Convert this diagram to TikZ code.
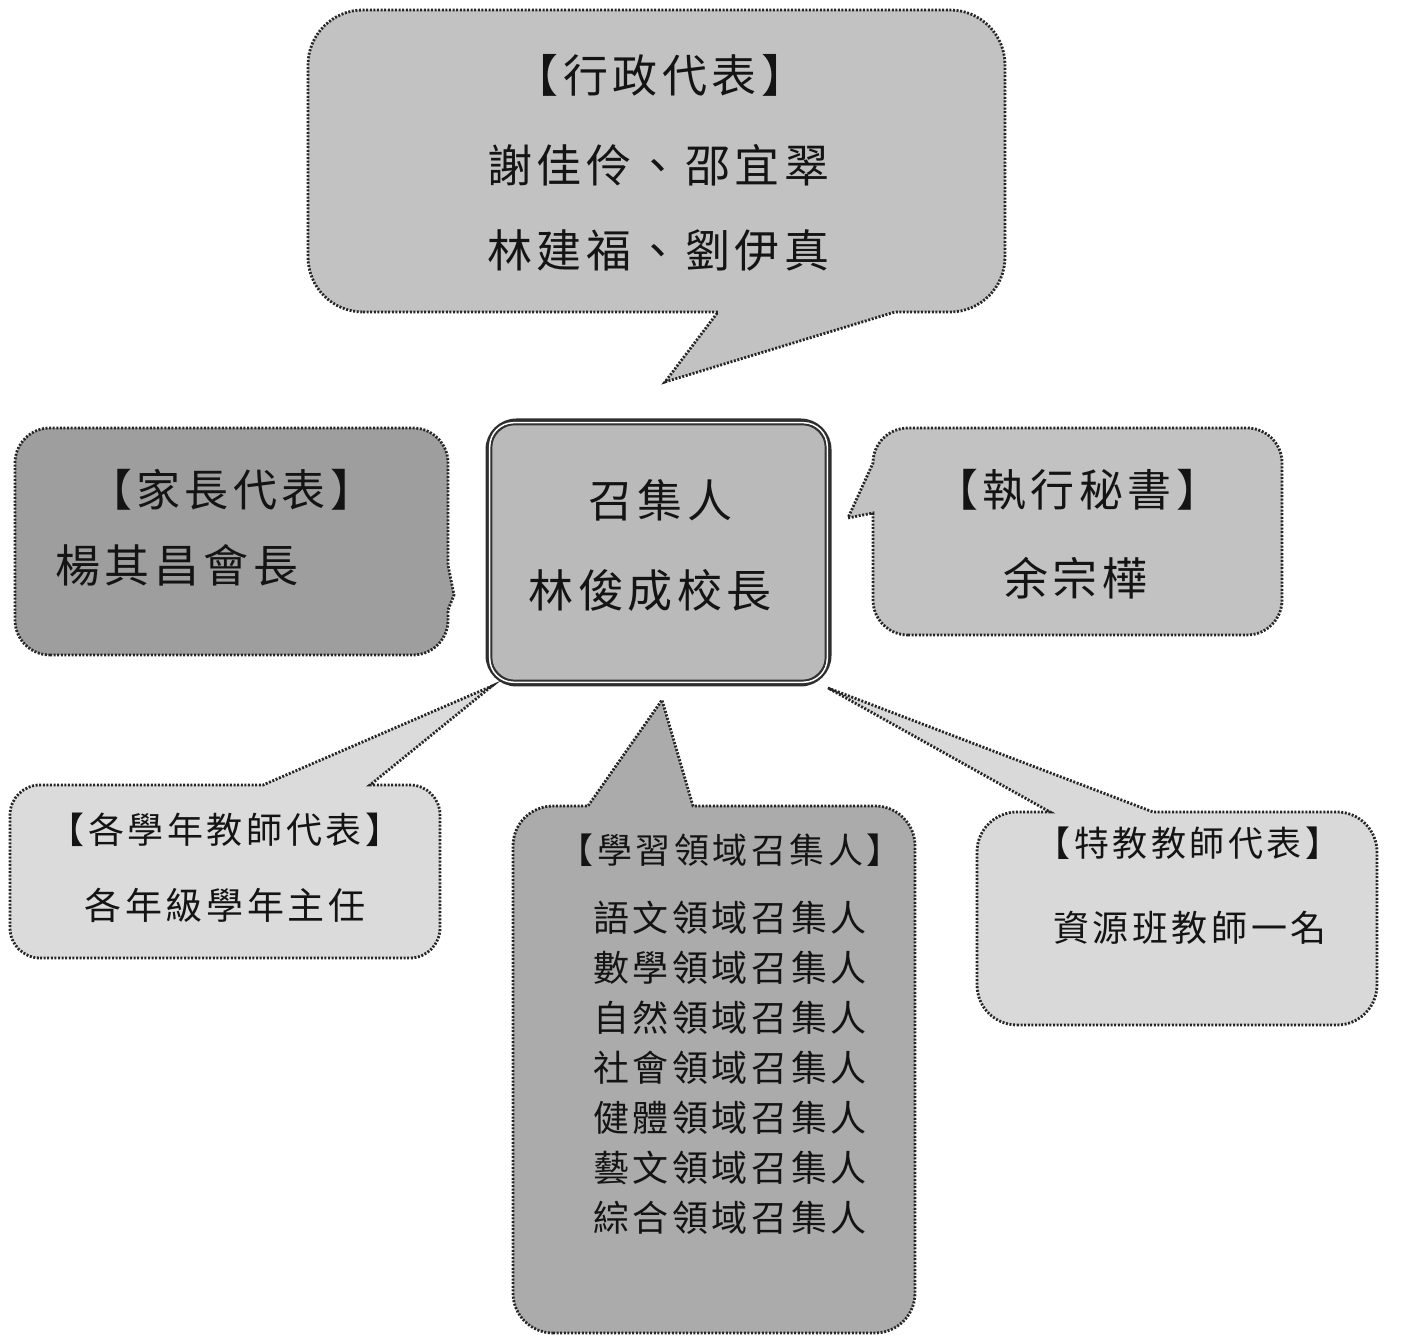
\documentclass[tikz,border=0pt]{standalone}
\usepackage{fontspec}
\newfontfamily\cjk{Noto Sans CJK TC}[LetterSpace=10]
\newcommand\myfs[1]{\fontsize{#1}{#1}\selectfont}
\definecolor{gTop}{gray}{0.76}
\definecolor{gLeft}{gray}{0.62}
\definecolor{gCenter}{gray}{0.73}
\definecolor{gRight}{gray}{0.76}
\definecolor{gGrade}{gray}{0.86}
\definecolor{gLearn}{gray}{0.67}
\definecolor{gSped}{gray}{0.85}
\begin{document}
\begin{tikzpicture}[x=1pt,y=1pt,
  callout/.style={draw=black!85, line width=2.8pt, dash pattern=on 2pt off 1.6pt},
  lbl/.style={inner sep=0pt, text=black!92, font=\cjk}]
\useasboundingbox (0,0) rectangle (1415,1337);
% tail tips
\coordinate (tipT) at (665,955);
\coordinate (tipR) at (848,819);
\coordinate (tipG) at (492,651);
\coordinate (tipL) at (662,637);
\coordinate (tipS) at (828,649);
% top callout
\draw[callout, fill=gTop] (363,1025) -- (718,1025) -- (tipT) -- (895,1025) -- (950,1025)
  arc[start angle=-90,end angle=0,radius=55pt] -- (1005,1272)
  arc[start angle=0,end angle=90,radius=55pt] -- (363,1327)
  arc[start angle=90,end angle=180,radius=55pt] -- (308,1080)
  arc[start angle=180,end angle=270,radius=55pt] -- cycle;
% left callout (parents)
\draw[callout, fill=gLeft] (50,682) -- (413,682)
  arc[start angle=-90,end angle=0,radius=35pt] -- (448,727) -- (454,742) -- (448,772) -- (448,874)
  arc[start angle=0,end angle=90,radius=35pt] -- (50,909)
  arc[start angle=90,end angle=180,radius=35pt] -- (15,717)
  arc[start angle=180,end angle=270,radius=35pt] -- cycle;
% right callout (secretary)
\draw[callout, fill=gRight] (908,702) -- (1247,702)
  arc[start angle=-90,end angle=0,radius=35pt] -- (1282,874)
  arc[start angle=0,end angle=90,radius=35pt] -- (908,909)
  arc[start angle=90,end angle=180,radius=35pt] -- (tipR) -- (873,824) -- (873,737)
  arc[start angle=180,end angle=270,radius=35pt] -- cycle;
% grade teachers callout
\draw[callout, fill=gGrade] (40,379) -- (410,379)
  arc[start angle=-90,end angle=0,radius=30pt] -- (440,522)
  arc[start angle=0,end angle=90,radius=30pt] -- (370,552) -- (tipG) -- (263,552) -- (40,552)
  arc[start angle=90,end angle=180,radius=30pt] -- (10,409)
  arc[start angle=180,end angle=270,radius=30pt] -- cycle;
% learning areas callout
\draw[callout, fill=gLearn] (553,4) -- (875,4)
  arc[start angle=-90,end angle=0,radius=40pt] -- (915,491)
  arc[start angle=0,end angle=90,radius=40pt] -- (693,531) -- (tipL) -- (588,531) -- (553,531)
  arc[start angle=90,end angle=180,radius=40pt] -- (513,44)
  arc[start angle=180,end angle=270,radius=40pt] -- cycle;
% special education callout
\draw[callout, fill=gSped] (1017,312) -- (1337,312)
  arc[start angle=-90,end angle=0,radius=40pt] -- (1377,485)
  arc[start angle=0,end angle=90,radius=40pt] -- (1153,525) -- (tipS) -- (1050,525) -- (1017,525)
  arc[start angle=90,end angle=180,radius=40pt] -- (977,352)
  arc[start angle=180,end angle=270,radius=40pt] -- cycle;
% center box
\node[draw=black!82, line width=6pt, fill=gCenter, rounded corners=28pt,
  minimum width=340pt, minimum height=262pt, inner sep=0pt] (c) at (658.5,784.5) {};
\draw[white, line width=1.5pt, rounded corners=24pt]
  ([shift={(4.2,-4.2)}]c.north west) rectangle ([shift={(-4.2,4.2)}]c.south east);
\draw[black!80, line width=1.4pt, rounded corners=22pt]
  ([shift={(6.2,-6.2)}]c.north west) rectangle ([shift={(-6.2,6.2)}]c.south east);
% texts
\node[lbl, font=\cjk\myfs{45}] (t1) at (660,1262) {【行政代表】};
\node[lbl, font=\cjk\myfs{45}] (t2) at (658,1172) {謝佳伶、邵宜翠};
\node[lbl, font=\cjk\myfs{45}] (t3) at (658,1087) {林建福、劉伊真};
\node[lbl, font=\cjk\myfs{44}] (p1) at (231,847) {【家長代表】};
\node[lbl, font=\cjk\myfs{45}, anchor=west] (p2) at (55,772) {楊其昌會長};
\node[lbl, font=\cjk\myfs{45}] (c1) at (660,837) {召集人};
\node[lbl, font=\cjk\myfs{45}] (c2) at (650,747) {林俊成校長};
\node[lbl, font=\cjk\myfs{44}] (r1) at (1077,847) {【執行秘書】};
\node[lbl, font=\cjk\myfs{45}] (r2) at (1075,759) {余宗樺};
\node[lbl, font=\cjk\myfs{36}] (g1) at (225,507) {【各學年教師代表】};
\node[lbl, font=\cjk\myfs{37}] (g2) at (225,432) {各年級學年主任};
\node[lbl, font=\cjk\myfs{35}] (l0) at (730,487) {【學習領域召集人】};
\foreach \txt [count=\i] in {語文領域召集人,數學領域召集人,自然領域召集人,社會領域召集人,健體領域召集人,藝文領域召集人,綜合領域召集人}{
  \node[lbl, font=\cjk\myfs{36}] (l\i) at (730,469-50*\i) {\txt};
}
\node[lbl, font=\cjk\myfs{35}] (s1) at (1188,494) {【特教教師代表】};
\node[lbl, font=\cjk\myfs{36}] (s2) at (1190,409) {資源班教師一名};
\end{tikzpicture}
\end{document}
